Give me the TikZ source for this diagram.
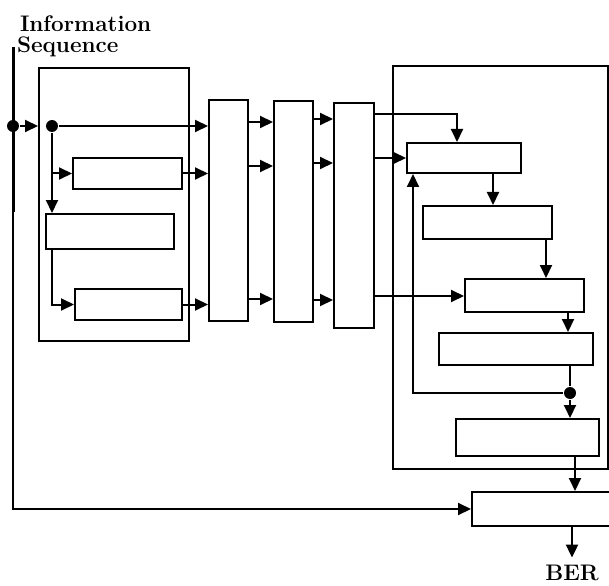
\documentclass[tikz,border=0pt]{standalone}
\usepackage{tikz}
\usetikzlibrary{arrows.meta}
\tikzset{lbl/.style={draw=none, fill=none, inner sep=0pt,
  font=\fontsize{22.5}{24}\selectfont\bfseries}}

\begin{document}
\begin{tikzpicture}[x=1pt, y=-1pt, line width=2pt,
  blk/.style={draw, rectangle, inner sep=0pt},
  dot/.style={circle, fill, inner sep=0pt, minimum size=12pt},
  >={Triangle[length=13pt, width=12pt]}]
  \useasboundingbox (0,0) rectangle (609,585);
  % labels
  \node[lbl, anchor=base west] (info) at (19,32) {Information};
  \node[lbl, anchor=base west] (seq)  at (16,53) {Sequence};
  \node[lbl, anchor=base]      (ber)  at (572,580) {BER};
  % encoder side
  \node[blk, minimum width=150pt, minimum height=273pt] (enc) at (114,204.5) {};
  \node[blk, minimum width=109pt, minimum height=31pt] (A) at (127.5,173.5) {};
  \node[blk, minimum width=128pt, minimum height=35pt] (B) at (110,231.5) {};
  \node[blk, minimum width=107pt, minimum height=31pt] (C) at (128.5,304.5) {};
  \node[blk, minimum width=39pt, minimum height=221pt] (T1) at (228.5,210.5) {};
  \node[blk, minimum width=39pt, minimum height=221pt] (T2) at (293.5,211.5) {};
  \node[blk, minimum width=40pt, minimum height=225pt] (T3) at (354,215.5) {};
  % decoder side
  \node[blk, minimum width=215pt, minimum height=403pt] (dec) at (500.5,267.5) {};
  \node[blk, minimum width=114pt, minimum height=30pt] (D) at (464,158) {};
  \node[blk, minimum width=129pt, minimum height=33pt] (E) at (487.5,222.5) {};
  \node[blk, minimum width=119pt, minimum height=33pt] (F) at (524.5,295.5) {};
  \node[blk, minimum width=154pt, minimum height=32pt] (G) at (516,349) {};
  \node[blk, minimum width=143pt, minimum height=37pt] (H) at (527.5,437.5) {};
  \node[blk, minimum width=138pt, minimum height=34pt] (I) at (541,509) {};
  % source line
  \coordinate (src) at (13,47);
  \node[dot] (d1) at (13,126) {};
  \node[dot] (d2) at (52,126) {};
  \draw[line width=3pt] (src) -- (13,212);
  \draw[->] (src) |- (I.west);
  \draw[->] (d1) -- (enc.west |- d1);
  \draw[->] (d2) -- (T1.west |- d2);
  \draw[->] (d2) -- (B.north -| d2);
  \draw[->] (A.west -| d2) -- (A.west);
  \draw[->] (A.east) -- (A.east -| T1.west);
  \draw[->] (B.south -| d2) |- (C.west);
  \draw[->] (C.east) -- (C.east -| T1.west);
  \foreach \y in {122,166,299}
    \draw[->] (T1.east |- 0,\y) -- (T2.west |- 0,\y);
  \foreach \y in {119,163,300}
    \draw[->] (T2.east |- 0,\y) -- (T3.west |- 0,\y);
  \draw[->] (T3.east |- 0,114) -| (D.north -| 457,0);
  \draw[->] (T3.east |- D.west) -- (D.west);
  \draw[->] (T3.east |- 0,296) -- (F.west |- 0,296);
  \draw[->] (D.south -| 493,0) -- (E.north -| 493,0);
  \draw[->] (E.south -| 546,0) -- (F.north -| 546,0);
  \draw[->] (F.south -| 568,0) -- (G.north -| 568,0);
  \node[dot] (fb) at (570,393) {};
  \draw (G.south -| fb) -- (fb);
  \draw[->] (fb) -- (H.north -| fb);
  \draw[->] (fb) -| (D.south -| 413,0);
  \draw[->] (H.south -| 575,0) -- (I.north -| 575,0);
  \draw[->, shorten >=6pt] (I.south -| ber.north) -- (ber.north);
\end{tikzpicture}
\end{document}
